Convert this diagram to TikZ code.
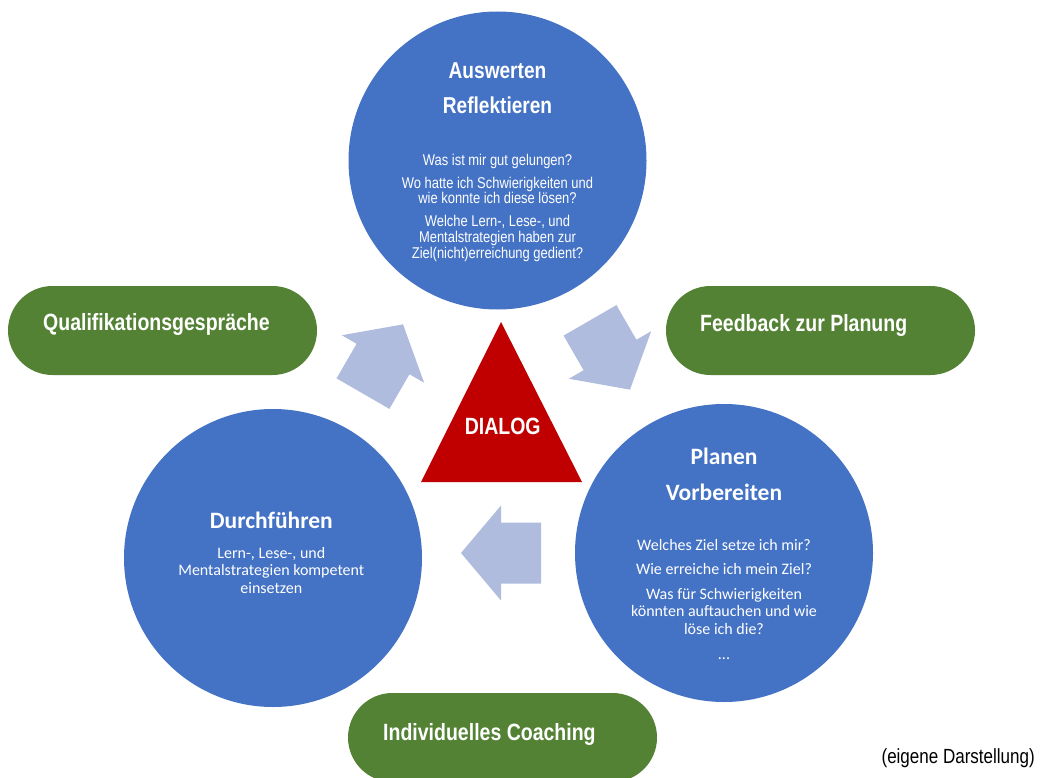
\documentclass[tikz,border=0pt]{standalone}
\usepackage{fontspec}
\setmainfont{Liberation Sans}
\newfontfamily\arnfont[FakeStretch=0.83]{Liberation Sans}
\newfontfamily\calfont{Carlito}
\definecolor{cblue}{HTML}{4472C4}
\definecolor{cgreen}{HTML}{548235}
\definecolor{cred}{HTML}{C00000}
\definecolor{carrow}{RGB}{175,188,222}
\tikzset{
  bigcircle/.style={circle, fill=cblue, draw=none, minimum size=298pt, inner sep=0pt},
  pill/.style={rectangle, fill=cgreen, draw=none, minimum width=309pt, minimum height=89pt, rounded corners=44.5pt, inner sep=0pt},
  wtxt/.style={text=white, anchor=base, inner sep=0pt},
  arhead/.style={text=white, anchor=base, inner sep=0pt, font=\arnfont\fontsize{23}{23}\selectfont\bfseries},
  arbody/.style={text=white, anchor=base, inner sep=0pt, font=\arnfont\fontsize{15.6}{16}\selectfont},
  calhead/.style={text=white, anchor=base, inner sep=0pt, font=\calfont\fontsize{23.5}{24}\selectfont\bfseries},
  calbody/.style={text=white, anchor=base, inner sep=0pt, font=\calfont\fontsize{16}{17.5}\selectfont},
  pilltxt/.style={text=white, anchor=base west, inner sep=0pt, font=\arnfont\fontsize{23.5}{24}\selectfont\bfseries},
  fatarrow/.style={fill=carrow, draw=none}
}
\begin{document}
\begin{tikzpicture}[x=1pt,y=-1pt]
\useasboundingbox (0,0) rectangle (1041,778);
% circles
\node[bigcircle] (top) at (497.5,160.5) {};
\node[bigcircle] (plan) at (724,553) {};
\node[bigcircle] (durch) at (273,558) {};
% pills
\node[pill] (quali) at (162.5,330.5) {};
\node[pill] (feed) at (820.5,330.5) {};
\node[pill] (coach) at (502.5,737.5) {};
% triangle
\coordinate (tA) at (501,322);
\coordinate (tB) at (421,482);
\coordinate (tC) at (582,482);
\fill[cred] (tA) -- (tB) -- (tC) -- cycle;
\node[wtxt, font=\arnfont\fontsize{23.5}{24}\selectfont\bfseries] (dialog) at (502.7,434) {DIALOG};
% arrows
\foreach \cx/\cy/\ang in {383/359/60, 610/355/-60, 501/553/180}{
  \begin{scope}[shift={(\cx,\cy)}, rotate=\ang]
    \fill[fatarrow] (-40,-30.5) -- (0,-30.5) -- (0,-47.5) -- (40,0) -- (0,47.5) -- (0,30.5) -- (-40,30.5) -- cycle;
  \end{scope}
}
% top circle texts
\node[arhead] (t1) at (497.5,79) {Auswerten};
\node[arhead] (t2) at (497.5,114) {Reflektieren};
\node[arbody] (t3) at (497.5,165.7) {Was ist mir gut gelungen?};
\node[arbody] (t4) at (497.5,188.3) {Wo hatte ich Schwierigkeiten und};
\node[arbody] (t5) at (497.5,204) {wie konnte ich diese lösen?};
\node[arbody] (t6) at (497.5,226.7) {Welche Lern-, Lese-, und};
\node[arbody] (t7) at (497.5,242.7) {Mentalstrategien haben zur};
\node[arbody] (t8) at (497.5,258.7) {Ziel(nicht)erreichung gedient?};
% planen texts
\node[calhead] (p1) at (724,464) {Planen};
\node[calhead] (p2) at (724,500) {Vorbereiten};
\node[calbody] (p3) at (724,550.7) {Welches Ziel setze ich mir?};
\node[calbody] (p4) at (724,574.3) {Wie erreiche ich mein Ziel?};
\node[calbody] (p5) at (724,599) {Was für Schwierigkeiten};
\node[calbody] (p6) at (724,616.7) {könnten auftauchen und wie};
\node[calbody] (p7) at (724,634.3) {löse ich die?};
\node[calbody] (p8) at (724,659.3) {...};
% durchfuehren texts
\node[calhead] (d1) at (271.3,528.3) {Durchführen};
\node[calbody] (d2) at (271.3,558.3) {Lern-, Lese-, und};
\node[calbody] (d3) at (271.3,575.7) {Mentalstrategien kompetent};
\node[calbody] (d4) at (271.3,593.3) {einsetzen};
% pill texts
\node[pilltxt] (q1) at (43,330) {Qualifikationsgespräche};
\node[pilltxt] (f1) at (700,331.5) {Feedback zur Planung};
\node[pilltxt] (c1) at (383,740) {Individuelles Coaching};
% source
\node[anchor=base east, inner sep=0pt, font=\arnfont\fontsize{20.5}{21}\selectfont] (src) at (1035,763) {(eigene Darstellung)};
\end{tikzpicture}
\end{document}
